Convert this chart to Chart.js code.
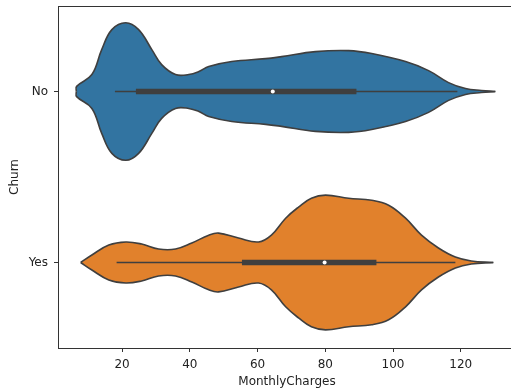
<!DOCTYPE html>
<html>
<head>
<meta charset="utf-8">
<script src="https://cdn.jsdelivr.net/npm/chart.js@4"></script>
<style>
  html, body { margin: 0; padding: 0; background: #fff; overflow: hidden; }
  #wrap { width: 520px; height: 391px; }
</style>
</head>
<body>
<div id="wrap"><canvas id="violinChart" width="520" height="391"></canvas></div>
<script>
const categories = ['No', 'Yes'];
const xTicks = [20, 40, 60, 80, 100, 120];

// density half-widths (in category units) read along MonthlyCharges
const noCharge = [6.5, 6.6, 11.1, 14.0, 17.0, 21.1, 24.9, 28.8, 31.7, 35.8, 39.7, 42.7, 45.6, 52.4, 62.4, 67.1, 77.1, 86.9, 93.7, 103.7, 110.5, 116.4, 121.4, 126.1, 130.2];
const noDensity = [0, 0.03, 0.099, 0.245, 0.362, 0.402, 0.362, 0.245, 0.157, 0.099, 0.099, 0.117, 0.146, 0.175, 0.192, 0.204, 0.233, 0.239, 0.222, 0.175, 0.122, 0.052, 0.017, 0.006, 0];
const yesCharge = [7.8, 11.1, 16.1, 21.1, 25.8, 30.8, 35.8, 40.6, 45.6, 48.5, 54.4, 60.3, 64.1, 68.3, 72.1, 75.9, 80.1, 86.9, 93.7, 98.7, 103.7, 108.4, 113.4, 118.4, 123.1, 129.6];
const yesDensity = [0, 0.044, 0.102, 0.120, 0.108, 0.079, 0.079, 0.114, 0.160, 0.172, 0.143, 0.120, 0.160, 0.259, 0.324, 0.376, 0.394, 0.376, 0.364, 0.335, 0.259, 0.160, 0.085, 0.032, 0.009, 0];

// inner box stats
const whiskerLow = [17.9, 18.4];
const whiskerHigh = [119.0, 118.4];
const boxLow = [24.1, 55.4];
const boxHigh = [89.2, 95.1];
const medians = [64.5, 79.8];

const fillColors = ['#3274a1', '#e1812c'];
const edge = '#3f3f3f';

function edgeData(xs, ws, center, sign) {
    return xs.map((x, i) => ({ x: x, y: center + sign * ws[i] }));
}

const shapes = [[noCharge, noDensity], [yesCharge, yesDensity]];
const datasets = [];

categories.forEach((cat, i) => {
    const [xs, ws] = shapes[i];
    datasets.push({
        data: edgeData(xs, ws, i, -1),
        showLine: true, pointRadius: 0,
        borderColor: edge, borderWidth: 1.6,
        fill: false,
        tension: 0.4,
        order: 3
    });
    // lower edge carries the fill so both outlines end up on top of it
    datasets.push({
        data: edgeData(xs, ws, i, 1),
        showLine: true, pointRadius: 0,
        borderColor: edge, borderWidth: 1.6,
        backgroundColor: fillColors[i],
        fill: '-1',
        tension: 0.4,
        order: 3
    });
    datasets.push({
        data: [{ x: whiskerLow[i], y: i }, { x: whiskerHigh[i], y: i }],
        showLine: true, pointRadius: 0,
        borderColor: edge, borderWidth: 1.5, fill: false,
        order: 2
    });
    datasets.push({
        data: [{ x: boxLow[i], y: i }, { x: boxHigh[i], y: i }],
        showLine: true, pointRadius: 0,
        borderColor: edge, borderWidth: 5.5, borderCapStyle: 'butt', fill: false,
        order: 1
    });
    datasets.push({
        data: [{ x: medians[i], y: i }],
        pointRadius: 2, pointBorderWidth: 0,
        pointBackgroundColor: '#ffffff',
        order: 0
    });
});

const frame = {
    id: 'frame',
    afterDraw(chart) {
        const { ctx, chartArea: a } = chart;
        ctx.save();
        ctx.strokeStyle = '#333';
        ctx.lineWidth = 1;
        ctx.strokeRect(a.left + 0.5, a.top + 0.5, a.right - a.left, a.bottom - a.top);
        ctx.restore();
    }
};

const font = { family: 'DejaVu Sans', size: 12 };

new Chart(document.getElementById('violinChart'), {
    type: 'scatter',
    data: { datasets },
    options: {
        responsive: false,
        animation: false,
        layout: { padding: { top: 6, right: 3, left: 0, bottom: 0 } },
        plugins: { legend: { display: false }, tooltip: { enabled: false } },
        scales: {
            x: {
                type: 'linear',
                min: 1.1, max: 136.3,
                afterBuildTicks: s => { s.ticks = xTicks.map(v => ({ value: v })); },
                afterFit: s => { s.height = 43; s.paddingLeft = 0; s.paddingRight = 0; },
                ticks: { font, color: '#222', padding: 6 },
                grid: { drawOnChartArea: false, tickLength: 4, tickColor: '#333' },
                border: { color: '#333' },
                title: { display: true, text: 'MonthlyCharges', font, color: '#222', padding: { top: 0, bottom: 2 } }
            },
            y: {
                type: 'linear',
                min: -0.5, max: 1.5,
                reverse: true,
                afterBuildTicks: s => { s.ticks = categories.map((c, i) => ({ value: i })); },
                afterFit: s => { s.width = 58; s.paddingTop = 0; s.paddingBottom = 0; },
                ticks: { font, color: '#222', padding: 6, callback: v => categories[v] },
                grid: { drawOnChartArea: false, tickLength: 4, tickColor: '#333' },
                border: { color: '#333' },
                title: { display: true, text: 'Churn', font, color: '#222', padding: { top: 8, bottom: 0 } }
            }
        }
    },
    plugins: [frame]
});
</script>
</body>
</html>
